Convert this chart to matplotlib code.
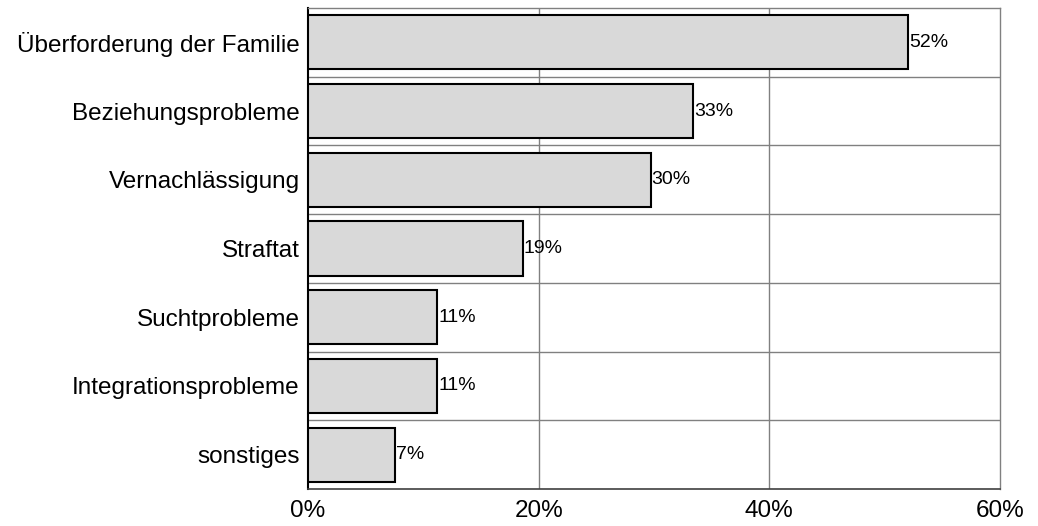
import matplotlib
matplotlib.use("Agg")
import matplotlib.pyplot as plt

categories = ["Überforderung der Familie", "Beziehungsprobleme", "Vernachlässigung",
              "Straftat", "Suchtprobleme", "Integrationsprobleme", "sonstiges"]
values = [52.0, 33.4, 29.7, 18.6, 11.2, 11.2, 7.5]
value_labels = ["52%", "33%", "30%", "19%", "11%", "11%", "7%"]
xticks = [0, 20, 40, 60]
xtick_labels = ["0%", "20%", "40%", "60%"]

plt.rcParams['font.family'] = ['Liberation Sans', 'DejaVu Sans']

fig = plt.figure(figsize=(10.38, 5.26), dpi=100)
ax = fig.add_axes([308/1038, 37/526, 692/1038, 481/526])

n = len(categories)
ypos = list(range(n))
ax.barh(ypos, values, height=0.79, color='#d9d9d9', edgecolor='black', linewidth=1.5, zorder=3)
for y, v, lab in zip(ypos, values, value_labels):
    ax.text(v + 0.1, y, lab, va='center', ha='left', fontsize=14, zorder=4)

ax.set_ylim(n - 0.5, -0.5)
ax.set_xlim(0, 60)
ax.set_yticks(ypos)
ax.set_yticklabels(categories, fontsize=17.5)
ax.set_xticks(xticks)
ax.set_xticklabels(xtick_labels, fontsize=17.5)
ax.tick_params(axis='y', length=0, pad=6)
ax.tick_params(axis='x', length=0, pad=8)

# gridlines
for x in xticks[1:-1]:
    ax.axvline(x, color='#808080', linewidth=1, zorder=1)
for k in range(n - 1):
    ax.axhline(k + 0.5, color='#808080', linewidth=1, zorder=1)

for s in ['top', 'right']:
    ax.spines[s].set_color('#808080')
    ax.spines[s].set_linewidth(1)
ax.spines['left'].set_color('black')
ax.spines['left'].set_linewidth(1.5)
ax.spines['bottom'].set_color('#404040')
ax.spines['bottom'].set_linewidth(1.2)

fig.savefig("out.png", dpi=100)
